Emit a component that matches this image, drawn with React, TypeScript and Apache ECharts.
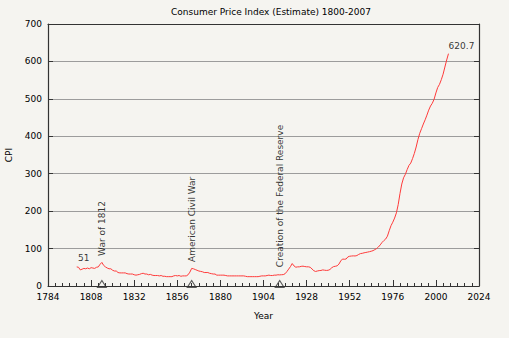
import React, { useEffect, useRef } from "react";
import * as echarts from "echarts";

const titleText = "Consumer Price Index (Estimate) 1800-2007";
const startYear = 1800;
// Annual CPI estimate (1967 = 100), 1800..2007
const cpi = [
  51, 50, 43, 45, 47, 46, 48, 46, 49, 48,
  47, 50, 51, 58, 63, 55, 51, 48, 46, 46,
  42, 40, 40, 36, 35, 35, 35, 35, 33, 32,
  32, 32, 30, 29, 30, 31, 33, 34, 32, 32,
  30, 31, 29, 28, 28, 28, 27, 28, 26, 26,
  25, 25, 25, 25, 27, 28, 27, 28, 26, 27,
  27, 27, 30, 37, 47, 46, 44, 42, 40, 39,
  38, 36, 36, 36, 34, 33, 32, 32, 29, 29,
  29, 29, 29, 28, 27, 27, 27, 27, 27, 27,
  27, 27, 27, 27, 26, 25, 25, 25, 25, 25,
  25, 25, 26, 27, 27, 27, 28, 29, 28, 28,
  29, 29, 30, 29.7, 30.1, 30.4, 32.7, 38.4, 45.1, 51.8,
  60.0, 53.6, 50.2, 51.1, 51.2, 52.5, 53.0, 52.0, 51.3, 51.3,
  50.0, 45.6, 40.9, 38.8, 40.1, 41.1, 41.5, 43.0, 42.2, 41.6,
  42.0, 44.1, 48.8, 51.8, 52.7, 53.9, 58.5, 66.9, 72.1, 71.4,
  72.1, 77.8, 79.5, 80.1, 80.5, 80.2, 81.4, 84.3, 86.6, 87.3,
  88.7, 89.6, 90.6, 91.7, 92.9, 94.5, 97.2, 100.0, 104.2, 109.8,
  116.3, 121.3, 125.3, 133.1, 147.7, 161.2, 170.5, 181.5, 195.4, 217.4,
  246.8, 272.4, 289.1, 298.4, 311.1, 322.2, 328.4, 340.4, 354.3, 371.3,
  391.4, 408.0, 420.3, 432.7, 444.0, 456.5, 469.9, 480.8, 488.3, 499.0,
  515.8, 530.4, 538.8, 551.1, 565.8, 585.0, 603.9, 620.7,
];

const axisStartYear = 1784;
const axisEndYear = 2024;
const xTickStep = 24;
const yMax = 700;
const yTickStep = 100;

const annotationYears = [1814, 1864, 1913];
const annotationTexts = ["War of 1812", "American Civil War", "Creation of the Federal Reserve"];
const annotationBaseValues = [75, 59, 45];

const FONT = "DejaVu Sans";
const TEXT = "#000000";
const AXIS = "#333333";

export default function App() {
  const ref = useRef<HTMLDivElement>(null);

  useEffect(() => {
    if (!ref.current) return;
    const chart = echarts.init(ref.current, null, { renderer: "svg" });

    const lineData = cpi.map((v, i) => [startYear + i - axisStartYear, v]);
    const first = lineData[0];
    const last = lineData[lineData.length - 1];

    const option: any = {
      animation: false,
      backgroundColor: "#f5f4f0",
      textStyle: { fontFamily: FONT },
      title: {
        text: titleText,
        left: 166,
        top: 2,
        textStyle: { fontSize: 9, fontWeight: "normal", color: TEXT, fontFamily: FONT },
      },
      grid: { left: 48, right: 30, top: 24, bottom: 52, containLabel: false, outerBoundsMode: "none" },
      xAxis: [
        {
          type: "value",
          min: 0,
          max: axisEndYear - axisStartYear,
          interval: xTickStep,
          axisLine: { show: true, onZero: false, lineStyle: { color: AXIS, width: 1.2 } },
          axisTick: { show: true, inside: true, length: 6, lineStyle: { color: AXIS } },
          minorTick: { show: true, splitNumber: 6, length: 3, lineStyle: { color: AXIS } },
          axisLabel: {
            formatter: (v: number) => String(v + axisStartYear),
            color: TEXT,
            fontSize: 9,
            fontFamily: FONT,
            margin: 6,
          },
          splitLine: { show: false },
          name: "Year",
          nameLocation: "middle",
          nameGap: 25,
          nameTextStyle: { color: TEXT, fontSize: 9, fontFamily: FONT },
        },
        {
          type: "value",
          position: "top",
          min: 0,
          max: axisEndYear - axisStartYear,
          interval: xTickStep,
          axisLine: { show: true, onZero: false, lineStyle: { color: AXIS, width: 1.2 } },
          axisTick: { show: false },
          axisLabel: { show: false },
          splitLine: { show: false },
        },
      ],
      yAxis: [
        {
          type: "value",
          min: 0,
          max: yMax,
          interval: yTickStep,
          axisLine: { show: true, onZero: false, lineStyle: { color: AXIS, width: 1.2 } },
          axisTick: { show: true, inside: true, length: 5, lineStyle: { color: AXIS } },
          axisLabel: { color: TEXT, fontSize: 9, fontFamily: FONT, margin: 6 },
          splitLine: { show: true, lineStyle: { color: "#9c9c9c", width: 1 } },
          name: "CPI",
          nameLocation: "middle",
          nameGap: 34,
          nameRotate: 90,
          nameTextStyle: { color: TEXT, fontSize: 9, fontFamily: FONT },
        },
        {
          type: "value",
          position: "right",
          min: 0,
          max: yMax,
          interval: yTickStep,
          axisLine: { show: true, onZero: false, lineStyle: { color: AXIS, width: 1.2 } },
          axisTick: { show: true, inside: true, length: 5, lineStyle: { color: AXIS } },
          axisLabel: { show: false },
          splitLine: { show: false },
        },
      ],
      series: [
        {
          type: "line",
          data: lineData,
          showSymbol: false,
          symbol: "none",
          lineStyle: { color: "#ff3b3b", width: 1 },
          z: 3,
        },
        {
          type: "scatter",
          data: annotationYears.map((y) => [y - axisStartYear, 0]),
          symbol: "triangle",
          symbolSize: [9, 7],
          symbolOffset: [0, -2],
          clip: false,
          itemStyle: { color: "rgba(0,0,0,0)", borderColor: AXIS, borderWidth: 1 },
          z: 5,
        },
        {
          type: "scatter",
          data: annotationYears.map((y, i) => ({
            name: annotationTexts[i],
            value: [y - axisStartYear, annotationBaseValues[i]],
          })),
          symbolSize: 1,
          itemStyle: { color: "rgba(0,0,0,0)" },
          label: {
            show: true,
            formatter: (p: any) => p.name,
            position: "inside",
            rotate: 90,
            align: "left",
            verticalAlign: "middle",
            offset: [2, 0],
            color: TEXT,
            fontSize: 9,
            fontFamily: FONT,
          },
          z: 6,
        },
        {
          type: "scatter",
          data: [
            { value: first, label: { offset: [7, -9] } },
            { value: last, label: { offset: [13, -8] } },
          ],
          symbolSize: 1,
          itemStyle: { color: "rgba(0,0,0,0)" },
          label: {
            show: true,
            formatter: (p: any) => String(p.value[1]),
            position: "inside",
            align: "center",
            verticalAlign: "middle",
            color: TEXT,
            fontSize: 9,
            fontFamily: FONT,
          },
          z: 6,
        },
      ],
    };

    chart.setOption(option);
    return () => chart.dispose();
  }, []);

  return (
    <div
      ref={ref}
      style={{ position: "absolute", left: 0, top: 0, width: 509, height: 338 }}
    />
  );
}
